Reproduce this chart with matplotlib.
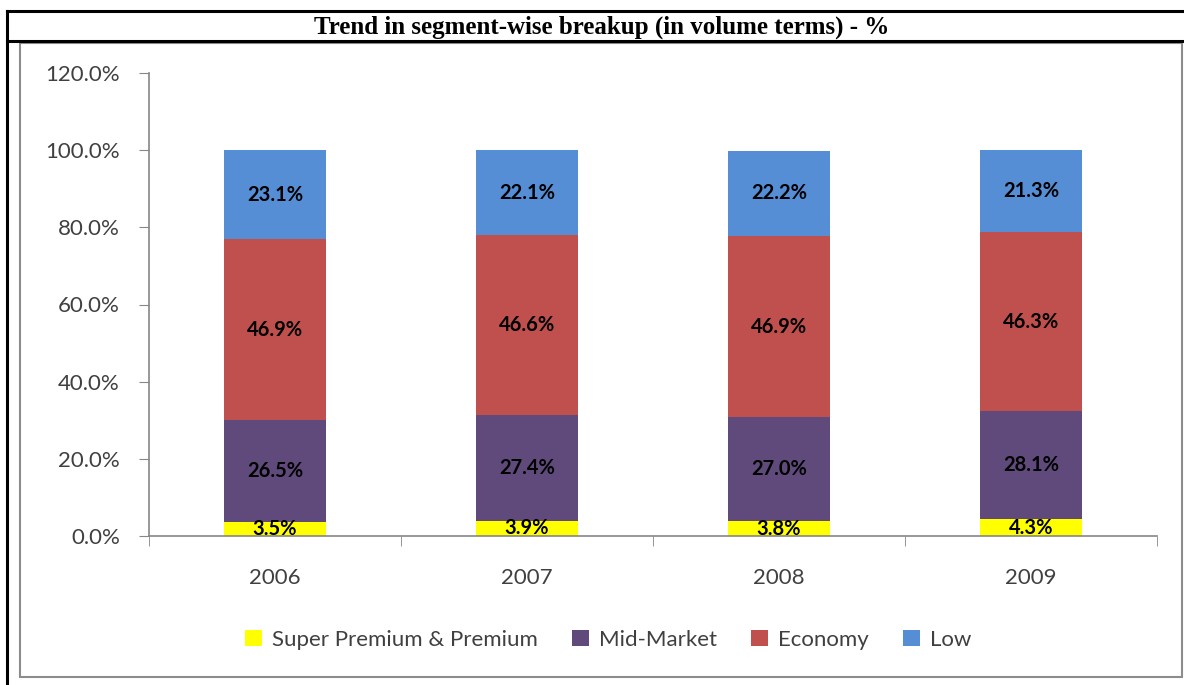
import matplotlib.pyplot as plt
from matplotlib.lines import Line2D
from matplotlib.patches import Rectangle
from matplotlib.ticker import FuncFormatter, MultipleLocator
import numpy as np

years = ['2006', '2007', '2008', '2009']
segments = ['Super Premium & Premium', 'Mid-Market', 'Economy', 'Low']
super_premium = [3.5, 3.9, 3.8, 4.3]
mid_market = [26.5, 27.4, 27.0, 28.1]
economy = [46.9, 46.6, 46.9, 46.3]
low = [23.1, 22.1, 22.2, 21.3]
colors = ['#FFFF00', '#604A7B', '#C0504D', '#558ED5']

W, H = 1184, 685
fig = plt.figure(figsize=(W / 100, H / 100), dpi=100)
FONT = 'Lato'

def px(x, y):
    return x / W, 1 - y / H

# outer table border and title row
for (x0, y0, x1, y1) in [(7, 11, 1184, 11), (7, 41, 1184, 41), (7, 11, 7, 685)]:
    (a, b), (c, d) = px(x0, y0), px(x1, y1)
    fig.add_artist(Line2D([a, c], [b, d], color='black', lw=2.2))

# grey chart area frame
x0, y0 = px(20, 677)
x1, y1 = px(1182, 43)
fig.add_artist(Rectangle((x0, y0), x1 - x0, y1 - y0, fill=False,
                         edgecolor='#8C8C8C', lw=1.5))

tx, ty = px(602, 27)
fig.text(tx, ty, 'Trend in segment-wise breakup (in volume terms) - %',
         family='Liberation Serif', weight='bold', fontsize=18,
         ha='center', va='center')

l, b = px(149, 536)
r, t = px(1157, 73)
ax = fig.add_axes([l, b, r - l, t - b])

x = np.arange(len(years))
data = [super_premium, mid_market, economy, low]
bottom = np.zeros(len(years))
handles = []
for name, vals, c in zip(segments, data, colors):
    vals = np.array(vals)
    bars = ax.bar(x, vals, 0.405, bottom=bottom, color=c, label=name)
    handles.append(bars)
    for xi, v, bt in zip(x, vals, bottom):
        ax.text(xi, bt + v / 2, f'{v:.1f}%', ha='center', va='center',
                fontsize=14.5, weight='bold', family=FONT, color='black')
    bottom += vals

ax.set_xlim(-0.5, 3.5)
ax.set_ylim(0, 120)
ax.yaxis.set_major_locator(MultipleLocator(20))
ax.yaxis.set_major_formatter(FuncFormatter(lambda v, p: f'{v:.1f}%'))
ax.set_xticks(x)
ax.set_xticklabels(years)
ax.set_xticks(np.arange(-0.5, 4, 1), minor=True)
ax.tick_params(axis='x', which='major', length=0, pad=23)
ax.tick_params(axis='x', which='minor', length=7, color='#868686')
ax.tick_params(axis='y', length=7, color='#868686', pad=14)
for lab in ax.get_xticklabels() + ax.get_yticklabels():
    lab.set_family(FONT)
    lab.set_fontsize(16)
    lab.set_color('#404040')
for s in ['top', 'right']:
    ax.spines[s].set_visible(False)
for s in ['left', 'bottom']:
    ax.spines[s].set_color('#868686')
    ax.spines[s].set_linewidth(1.2)

lx, ly = px(608, 640)
fig.legend(handles=handles, labels=segments, loc='center', bbox_to_anchor=(lx, ly),
           ncol=4, frameon=False, handlelength=0.75, handleheight=0.75,
           handletextpad=0.45, columnspacing=1.55,
           prop={'family': FONT, 'size': 16})
for txt in fig.legends[0].get_texts():
    txt.set_color('#404040')

fig.savefig('out.png', dpi=100)
